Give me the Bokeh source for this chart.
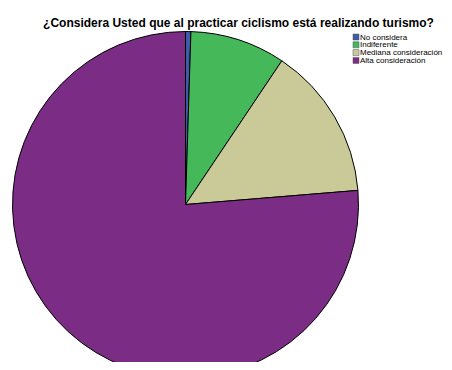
import math
from bokeh.plotting import figure
from bokeh.models import Range1d, ColumnDataSource
from bokeh.core.properties import value
from bokeh.embed import file_html
from bokeh.resources import INLINE

title = "¿Considera Usted que al practicar ciclismo está realizando turismo?"
categories = ["No considera", "Indiferente", "Mediana consideración", "Alta consideración"]
percents = [0.5, 8.9, 14.3, 76.3]
colors = ["#3D5BA9", "#45B95A", "#CACA99", "#7B2D86"]

W, H = 444, 362
p = figure(width=W, height=H, output_backend="svg", toolbar_location=None,
           x_range=Range1d(0, W), y_range=Range1d(-H, 0),
           min_border=0, outline_line_color=None)
p.axis.visible = False
p.grid.visible = False

total = sum(percents)
starts, ends = [], []
cum = 0.0
for v in percents:
    starts.append(math.pi / 2 - cum / total * 2 * math.pi)
    cum += v
    ends.append(math.pi / 2 - cum / total * 2 * math.pi)

src = ColumnDataSource(dict(start=starts, end=ends, color=colors, cat=categories))
p.wedge(x=185, y=-204, radius=173, start_angle="start", end_angle="end",
        direction="clock", fill_color="color", line_color="black", line_width=1,
        source=src)

p.text(x=[238], y=[-22], text=[title], text_font=value("Liberation Sans"),
       text_font_size="12px", text_font_style="bold", text_align="center",
       text_baseline="middle", text_color="black")

ly = [-36.5, -44.3, -52.1, -59.9]
p.rect(x=[355.5] * 4, y=ly, width=6, height=6, fill_color=colors,
       line_color="#555555", line_width=0.5)
p.text(x=[359.5] * 4, y=ly, text=categories, text_font=value("Liberation Sans"),
       text_font_size="8px", text_align="left", text_baseline="middle",
       text_color="black")

open("out.html", "w").write(file_html(p, INLINE))
